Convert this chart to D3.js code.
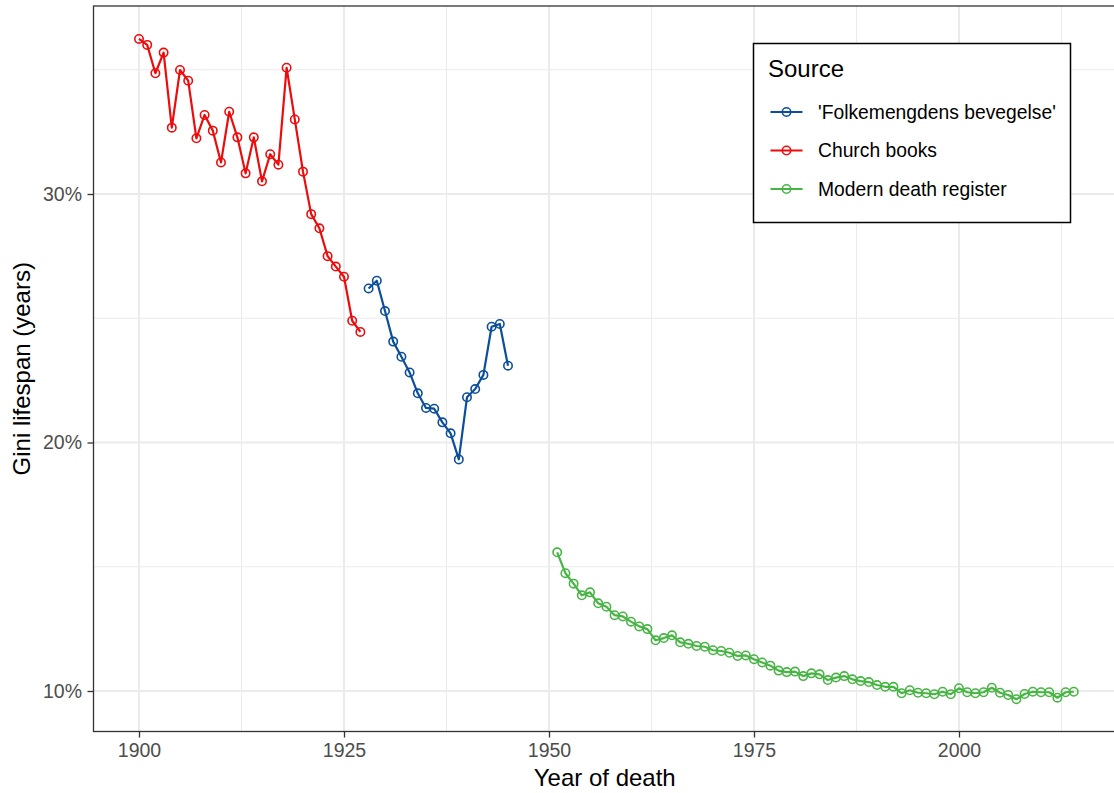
<!DOCTYPE html>
<html>
<head>
<meta charset="utf-8">
<script src="https://cdn.jsdelivr.net/npm/d3@7"></script>
<style>
  html, body { margin: 0; padding: 0; background: #ffffff; }
  svg { display: block; font-family: "Liberation Sans", Arial, Helvetica, sans-serif; }
</style>
</head>
<body>
<svg id="chart" width="1114" height="793"></svg>
<script>
// Gini coefficient of lifespan (%) by year of death, per data source
const sourceNames = ["'Folkemengdens bevegelse'", "Church books", "Modern death register"];
const sourceColors = ["#0b4f9a", "#ee0b0b", "#47b544"];

const folkeYears = d3.range(1928, 1946);
const folkeGini = [26.20, 26.51, 25.29, 24.06, 23.45, 22.82, 21.98, 21.39, 21.36, 20.81,
                   20.37, 19.32, 21.82, 22.15, 22.72, 24.66, 24.77, 23.09];

const churchYears = d3.range(1900, 1928);
const churchGini = [36.24, 36.00, 34.86, 35.69, 32.67, 34.99, 34.56, 32.24, 33.18, 32.55,
                    31.27, 33.31, 32.28, 30.83, 32.28, 30.51, 31.60, 31.18, 35.08, 33.00,
                    30.90, 29.19, 28.62, 27.50, 27.08, 26.67, 24.90, 24.45];

const modernYears = d3.range(1951, 2015);
const modernGini = [15.58, 14.74, 14.32, 13.85, 13.97, 13.53, 13.39, 13.05, 13.00, 12.79,
                    12.60, 12.49, 12.04, 12.13, 12.24, 11.96, 11.90, 11.81, 11.78, 11.64,
                    11.61, 11.54, 11.41, 11.43, 11.28, 11.15, 11.02, 10.82, 10.76, 10.78,
                    10.60, 10.71, 10.67, 10.44, 10.54, 10.60, 10.47, 10.40, 10.36, 10.24,
                    10.17, 10.17,  9.91, 10.03,  9.93,  9.91,  9.87,  9.97,  9.87, 10.11,
                     9.95,  9.91,  9.95, 10.13,  9.93,  9.84,  9.67,  9.88,  9.97,  9.95,
                     9.95,  9.73,  9.95,  9.97];

const xTicks = [1900, 1925, 1950, 1975, 2000];
const xMinorTicks = [1912.5, 1937.5, 1962.5, 1987.5, 2012.5];
const yTicks = [10, 20, 30];
const yMinorTicks = [15, 25, 35];

const series = [
  { name: sourceNames[0], color: sourceColors[0], points: folkeYears.map((yr, i) => ({ year: yr, gini: folkeGini[i] })) },
  { name: sourceNames[1], color: sourceColors[1], points: churchYears.map((yr, i) => ({ year: yr, gini: churchGini[i] })) },
  { name: sourceNames[2], color: sourceColors[2], points: modernYears.map((yr, i) => ({ year: yr, gini: modernGini[i] })) }
];

const svg = d3.select("#chart");
const W = 1114;

// panel bounds
const panel = { left: 93.5, top: 6, right: 1125, bottom: 731.5 };

const x = d3.scaleLinear().domain([1900, 2000]).range([139, 959]);
const y = d3.scaleLinear().domain([10, 30]).range([691, 194]);

svg.append("defs").append("clipPath").attr("id", "panel-clip")
  .append("rect")
  .attr("x", panel.left).attr("y", panel.top)
  .attr("width", panel.right - panel.left).attr("height", panel.bottom - panel.top);

const grid = svg.append("g").attr("clip-path", "url(#panel-clip)");

// minor grid
grid.selectAll("line.xminor").data(xMinorTicks).join("line")
  .attr("x1", d => x(d)).attr("x2", d => x(d))
  .attr("y1", panel.top).attr("y2", panel.bottom)
  .attr("stroke", "#ebebeb").attr("stroke-width", 1);
grid.selectAll("line.yminor").data(yMinorTicks).join("line")
  .attr("x1", panel.left).attr("x2", panel.right)
  .attr("y1", d => y(d)).attr("y2", d => y(d))
  .attr("stroke", "#ebebeb").attr("stroke-width", 1);

// major grid
grid.selectAll("line.xmajor").data(xTicks).join("line")
  .attr("x1", d => x(d)).attr("x2", d => x(d))
  .attr("y1", panel.top).attr("y2", panel.bottom)
  .attr("stroke", "#ebebeb").attr("stroke-width", 2);
grid.selectAll("line.ymajor").data(yTicks).join("line")
  .attr("x1", panel.left).attr("x2", panel.right)
  .attr("y1", d => y(d)).attr("y2", d => y(d))
  .attr("stroke", "#ebebeb").attr("stroke-width", 2);

// series lines and open circles
const line = d3.line().x(d => x(d.year)).y(d => y(d.gini));
const marks = svg.append("g").attr("clip-path", "url(#panel-clip)");
series.forEach(s => {
  marks.append("path")
    .datum(s.points)
    .attr("d", line)
    .attr("fill", "none")
    .attr("stroke", s.color)
    .attr("stroke-width", 2.2)
    .attr("stroke-linejoin", "round");
  marks.append("g").selectAll("circle").data(s.points).join("circle")
    .attr("cx", d => x(d.year))
    .attr("cy", d => y(d.gini))
    .attr("r", 4.2)
    .attr("fill", "none")
    .attr("stroke", s.color)
    .attr("stroke-width", 1.6);
});

// panel border
svg.append("rect")
  .attr("x", panel.left).attr("y", panel.top)
  .attr("width", panel.right - panel.left).attr("height", panel.bottom - panel.top)
  .attr("fill", "none").attr("stroke", "#333333").attr("stroke-width", 1.3);

// axes
const xAxis = svg.append("g")
  .attr("transform", `translate(0,${panel.bottom})`)
  .call(d3.axisBottom(x).tickValues(xTicks).tickFormat(d3.format("d")).tickSize(6).tickPadding(5.5));
const yAxis = svg.append("g")
  .attr("transform", `translate(${panel.left},0)`)
  .call(d3.axisLeft(y).tickValues(yTicks).tickFormat(d => d + "%").tickSize(6).tickPadding(5.5));

[xAxis, yAxis].forEach(ax => {
  ax.select(".domain").remove();
  ax.selectAll(".tick line").attr("stroke", "#333333").attr("stroke-width", 1.3);
  ax.selectAll(".tick text")
    .attr("fill", "#4d4d4d")
    .style("font-size", "19.5px")
    .style("font-family", "'Liberation Sans', Arial, sans-serif");
});

// axis titles
svg.append("text")
  .attr("x", (panel.left + W) / 2 + 1)
  .attr("y", 786)
  .attr("text-anchor", "middle")
  .style("font-size", "24px")
  .attr("fill", "#000")
  .text("Year of death");

svg.append("text")
  .attr("transform", `translate(30,${(panel.top + panel.bottom) / 2}) rotate(-90)`)
  .attr("text-anchor", "middle")
  .style("font-size", "24px")
  .attr("fill", "#000")
  .text("Gini lifespan (years)");

// legend
const legend = svg.append("g");
legend.append("rect")
  .attr("x", 753.5).attr("y", 43.5)
  .attr("width", 317).attr("height", 179)
  .attr("fill", "#ffffff").attr("stroke", "#000000").attr("stroke-width", 1.5);
legend.append("text")
  .attr("x", 768).attr("y", 77)
  .style("font-size", "24px")
  .text("Source");

const rowY = d3.scalePoint().domain(sourceNames).range([112, 189]);
const rows = legend.selectAll("g.row").data(series).join("g")
  .attr("transform", d => `translate(0,${rowY(d.name)})`);
rows.append("line")
  .attr("x1", 770.5).attr("x2", 802.5)
  .attr("stroke", d => d.color).attr("stroke-width", 2.2);
rows.append("circle")
  .attr("cx", 786.5).attr("r", 4.2)
  .attr("fill", "none").attr("stroke", d => d.color).attr("stroke-width", 1.6);
rows.append("text")
  .attr("x", 818).attr("dy", "0.35em")
  .style("font-size", "19.3px")
  .text(d => d.name);
</script>
</body>
</html>
